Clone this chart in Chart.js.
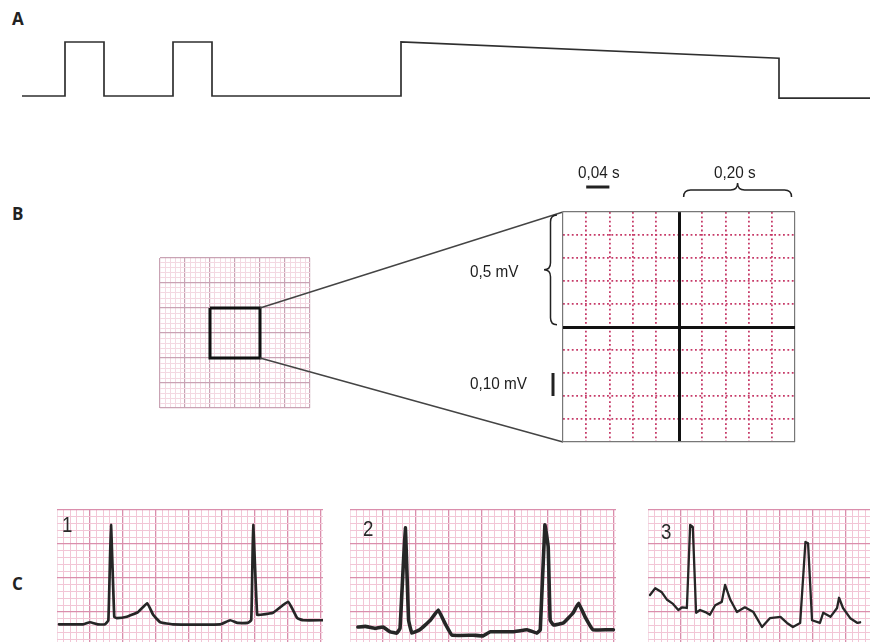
<!DOCTYPE html>
<html>
<head>
<meta charset="utf-8">
<script src="https://cdn.jsdelivr.net/npm/chart.js@4.4.0/dist/chart.umd.min.js"></script>
<style>
body{margin:0;background:#fff;width:870px;height:642px;overflow:hidden;position:relative}
.pane{position:absolute}
.lbl{position:absolute;font-family:"Open Sans",sans-serif;font-weight:700;font-size:17px;color:#222;line-height:1}
.txt{position:absolute;font-family:"Liberation Sans",sans-serif;font-size:17px;color:#1e1e1e;line-height:1;white-space:nowrap;transform:scaleX(0.9);transform-origin:0 0}
.num{position:absolute;font-family:"Liberation Sans",sans-serif;font-size:22px;color:#2a2a2a;line-height:1;transform:scaleX(0.85);transform-origin:0 0}
</style>
</head>
<body>
<div class="lbl" style="left:12px;top:10px">A</div>
<div class="lbl" style="left:12px;top:205px">B</div>
<div class="lbl" style="left:12px;top:575px">C</div>

<div class="pane" style="left:0;top:30px"><canvas id="chartA" width="870" height="80"></canvas></div>
<div class="pane" style="left:158px;top:256px"><canvas id="miniGrid" width="154" height="154"></canvas></div>
<div class="pane" style="left:258px;top:210px"><canvas id="connector" width="307" height="234"></canvas></div>
<div class="pane" style="left:440px;top:160px"><canvas id="bigGrid" width="360" height="290"></canvas></div>
<div class="txt" style="left:578px;top:164px">0,04 s</div>
<div class="txt" style="left:714px;top:164px">0,20 s</div>
<div class="txt" style="left:470px;top:263px">0,5 mV</div>
<div class="txt" style="left:470px;top:375px">0,10 mV</div>

<div class="pane" style="left:57px;top:509px"><canvas id="strip1" width="266" height="133"></canvas></div>
<div class="pane" style="left:350px;top:509px"><canvas id="strip2" width="266" height="133"></canvas></div>
<div class="pane" style="left:648px;top:509px"><canvas id="strip3" width="222" height="133"></canvas></div>
<div class="num" style="left:62px;top:514px">1</div>
<div class="num" style="left:363px;top:518px">2</div>
<div class="num" style="left:661px;top:521px">3</div>

<script>
//------------------ データ ------------------//
// A: 刺激波形 (時間, レベル)
const pulseTime  = [2.2, 6.5, 6.5, 10.4, 10.4, 17.3, 17.3, 21.2, 21.2, 40.1, 40.1, 77.9, 77.9, 87]
const pulseLevel = [0, 0, 1, 1, 0, 0, 1, 1, 0, 0, 1, 0.7, -0.04, -0.04]

// B: 記録紙 (小さい升目 = 1)
const zoomBoxX = [10, 20, 20, 10, 10]
const zoomBoxY = [20, 20, 10, 10, 20]
// 拡大線 (0 = 枠の右端, 1 = 拡大図の左端)
const connX    = [0, 1]
const connTopY = [0.583, 1]
const connBotY = [0.365, 0]
// 拡大図の目盛り注記 (升目単位)
const barSec   = [1, 2]        // 0,04 s
const barMv    = [2, 3]        // 0,10 mV
const braceSec = [5.2, 9.85]   // 0,20 s
const braceMv  = [5.1, 9.87]   // 0,5 mV

// C: 心電図 (x: 升目 0.04 s, y: 升目 0.1 mV)
const strip1T = [0.3,4.0,5.0,6.2,7.3,7.8,8.2,8.7,9.1,10.6,12.3,13.7,14.6,15.7,17.6,24.8,26.3,27.4,28.9,29.5,29.8,30.4,30.9,32.8,35.1,36.5,37.4,40.4]
const strip1V = [3.2,3.2,3.5,3.2,3.2,3.8,17.8,4.3,4.1,4.3,5.0,6.3,4.6,3.5,3.2,3.2,3.8,3.4,3.4,3.8,17.8,4.6,4.6,4.9,6.5,4.1,3.8,3.8]
const strip2T = [1.2,2.3,3.8,5.0,6.1,7.1,7.6,8.4,8.9,9.4,10.6,12.2,13.4,14.4,15.5,18.7,20.2,21.3,24.8,26.9,28.4,28.9,29.6,30.1,30.4,30.9,32.4,33.9,34.7,35.7,36.9,39.1,40.0]
const strip2V = [2.8,2.9,2.6,2.8,2.1,1.9,2.6,17.4,3.8,1.9,2.4,3.8,5.3,3.4,1.6,1.6,1.5,2.1,2.1,2.4,1.9,2.4,17.8,14.6,3.8,3.1,3.4,4.9,6.3,4.3,2.4,2.4,2.4]
const strip3T = [0.3,1.1,2.1,2.9,3.8,4.6,5.2,5.9,6.4,6.8,7.3,7.9,8.7,9.4,10.2,11.2,11.7,12.5,13.5,14.7,16.0,17.3,18.5,20.1,21.1,22.0,23.1,23.9,24.3,24.9,26.1,26.6,27.7,28.7,29.0,29.6,30.7,31.8,32.2]
const strip3V = [7.5,8.5,7.9,6.8,6.2,5.3,5.7,5.6,17.8,17.5,4.9,5.3,5.0,4.6,6.0,6.5,9.0,6.8,5.0,5.7,5.0,2.8,4.1,4.3,3.4,2.8,3.4,15.3,15.1,3.8,3.4,4.9,4.3,5.6,7.1,5.6,4.1,3.4,3.5]
//-------------------------------------------//

const INK = '#262626'

function pts(xs, ys){
    return xs.map((x, i) => ({x: x, y: ys[i]}))
}

// 目盛りなし、升目線だけの軸
function gridAxis(min, max, minorColor, majorColor, minorW, majorW, extra){
    const ax = {
        type: 'linear', min: min, max: max, display: true,
        ticks: {display: false},
        border: {display: false},
        grid: {
            drawTicks: false,
            color: c => (c.tick.value % 5 === 0) ? majorColor : minorColor,
            lineWidth: c => (c.tick.value % 5 === 0) ? majorW : minorW
        },
        afterBuildTicks: s => {
            const t = []
            for (let v = Math.ceil(min); v <= max + 1e-9; v++) t.push({value: v})
            s.ticks = t
        }
    }
    return Object.assign(ax, extra || {})
}

function hiddenAxis(min, max){
    return {type: 'linear', min: min, max: max, display: false}
}

function baseOptions(scales, padding){
    return {
        responsive: false,
        animation: false,
        events: [],
        layout: {padding: padding || 0},
        plugins: {legend: {display: false}, tooltip: {enabled: false}},
        scales: scales
    }
}

function lineSet(data, color, width, extra){
    return Object.assign({
        data: data, borderColor: color, borderWidth: width,
        pointRadius: 0, fill: false, tension: 0, clip: false, showLine: true
    }, extra || {})
}

/*-------------------------------------------
A: 刺激波形
-------------------------------------------*/
new Chart(document.getElementById('chartA'), {
    type: 'scatter',
    data: {datasets: [lineSet(pts(pulseTime, pulseLevel), '#2f2f2f', 1.7)]},
    options: baseOptions({x: hiddenAxis(0, 87), y: hiddenAxis(-0.259, 1.222)})
})

/*-------------------------------------------
B: 記録紙と拡大図
-------------------------------------------*/
new Chart(document.getElementById('miniGrid'), {
    type: 'scatter',
    data: {datasets: [lineSet(pts(zoomBoxX, zoomBoxY), '#111', 3)]},
    options: baseOptions({
        x: gridAxis(0, 30, '#f3d9e2', '#c9a3b4', 1, 1.2),
        y: gridAxis(0, 30, '#f3d9e2', '#c9a3b4', 1, 1.2)
    }, 2)
})

new Chart(document.getElementById('connector'), {
    type: 'scatter',
    data: {datasets: [
        lineSet(pts(connX, connTopY), '#444', 1.5),
        lineSet(pts(connX, connBotY), '#444', 1.5)
    ]},
    options: baseOptions({x: hiddenAxis(0, 1), y: hiddenAxis(0, 1)}, 2)
})

// 括弧を描く
function hBrace(ctx, x1, x2, y0, d){
    const m = (x1 + x2) / 2, r = 7, h = y0 - d / 2
    ctx.beginPath()
    ctx.moveTo(x1, y0)
    ctx.quadraticCurveTo(x1, h, x1 + r, h)
    ctx.lineTo(m - r, h)
    ctx.quadraticCurveTo(m, h, m, y0 - d)
    ctx.quadraticCurveTo(m, h, m + r, h)
    ctx.lineTo(x2 - r, h)
    ctx.quadraticCurveTo(x2, h, x2, y0)
    ctx.stroke()
}
function vBrace(ctx, y1, y2, x0, d){
    const m = (y1 + y2) / 2, r = 7, h = x0 - d / 2
    ctx.beginPath()
    ctx.moveTo(x0, y1)
    ctx.quadraticCurveTo(h, y1, h, y1 + r)
    ctx.lineTo(h, m - r)
    ctx.quadraticCurveTo(h, m, x0 - d, m)
    ctx.quadraticCurveTo(h, m, h, m + r)
    ctx.lineTo(h, y2 - r)
    ctx.quadraticCurveTo(h, y2, x0, y2)
    ctx.stroke()
}

const annotPlugin = {
    id: 'annot',
    afterDraw(chart){
        const ctx = chart.ctx
        const x = chart.scales.x, y = chart.scales.y
        const top = chart.chartArea.top, left = chart.chartArea.left
        ctx.save()
        ctx.strokeStyle = '#222'
        // 0,04 s
        ctx.lineWidth = 3
        ctx.beginPath()
        ctx.moveTo(x.getPixelForValue(barSec[0]), top - 25)
        ctx.lineTo(x.getPixelForValue(barSec[1]), top - 25)
        ctx.stroke()
        // 0,10 mV
        ctx.beginPath()
        ctx.moveTo(left - 10, y.getPixelForValue(barMv[0]))
        ctx.lineTo(left - 10, y.getPixelForValue(barMv[1]))
        ctx.stroke()
        // 括弧
        ctx.lineWidth = 1.5
        hBrace(ctx, x.getPixelForValue(braceSec[0]), x.getPixelForValue(braceSec[1]), top - 15, 14)
        vBrace(ctx, y.getPixelForValue(braceMv[1]), y.getPixelForValue(braceMv[0]), left - 6, 13)
        ctx.restore()
    }
}

const dotAxis = (extra) => {
    const ax = gridAxis(0, 10, '#c63a68', '#c63a68', 1.8, 1.8, extra)
    ax.border = {display: false, dash: [1.8, 2.6]}
    ax.afterBuildTicks = s => {
        const t = []
        for (let v = 1; v <= 9; v++) if (v !== 5) t.push({value: v})
        s.ticks = t
    }
    return ax
}
const frameAxis = (axis, pos) => {
    const ax = gridAxis(0, 10, '#777', '#777', 1, 1, {axis: axis, position: pos})
    ax.grid.color = c => (c.tick.value === 5) ? '#111' : '#777'
    ax.grid.lineWidth = c => (c.tick.value === 5) ? 3 : 1.2
    ax.afterBuildTicks = s => { s.ticks = [{value: 0}, {value: 5}, {value: 10}] }
    return ax
}

new Chart(document.getElementById('bigGrid'), {
    type: 'scatter',
    data: {datasets: []},
    options: baseOptions({
        x: dotAxis(),
        y: dotAxis(),
        x2: frameAxis('x', 'top'),
        y2: frameAxis('y', 'right')
    }, {left: 123, top: 52, right: 5, bottom: 8}),
    plugins: [annotPlugin]
})

/*-------------------------------------------
C: 心電図
-------------------------------------------*/
function plotStrip(id, ts, vs, width, lineW, tension){
    new Chart(document.getElementById(id), {
        type: 'scatter',
        data: {datasets: [lineSet(pts(ts, vs), INK, lineW, {tension: tension, borderJoinStyle: 'round', borderCapStyle: 'round'})]},
        options: baseOptions({
            x: gridAxis(0, width, '#f2c6d6', '#da8eac', 1, 1.3),
            y: gridAxis(0.6, 20, '#f2c6d6', '#da8eac', 1, 1.3)
        }, {top: 1})
    })
}

plotStrip('strip1', strip1T, strip1V, 40.4, 2.7, 0.12)
plotStrip('strip2', strip2T, strip2V, 40.4, 3.6, 0.08)
plotStrip('strip3', strip3T, strip3V, 33.7, 2.3, 0)
</script>
</body>
</html>
